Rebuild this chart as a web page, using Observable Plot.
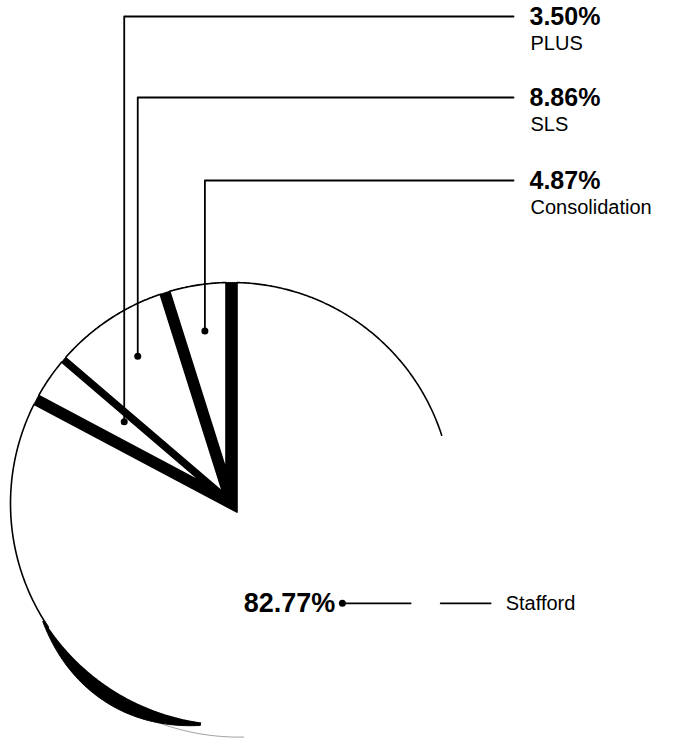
<!DOCTYPE html>
<html>
<head>
<meta charset="utf-8">
<script src="https://cdn.jsdelivr.net/npm/d3@7"></script>
<script src="https://cdn.jsdelivr.net/npm/@observablehq/plot@0.6"></script>
<style>
  html, body { margin: 0; padding: 0; background: #fff; }
  #chart svg { display: block; }
</style>
</head>
<body>
<div id="chart"></div>
<script>
// ---- data (clockwise from 12 o'clock) ----
const categories = ["Stafford", "PLUS", "SLS", "Consolidation"];
const shares = [82.77, 3.50, 8.86, 4.87];
const percentLabels = ["82.77%", "3.50%", "8.86%", "4.87%"];

// ---- layout (pixels) ----
const W = 677, H = 747;
const CX = 231, CY = 503, R = 221;           // pie centre and radius
// inset of each slice's start / end edge (half of the black gap)
const insetStart = { Stafford: 5.5, PLUS: 5, SLS: 3, Consolidation: 5 };
const insetEnd   = { Stafford: 5, PLUS: 3, SLS: 5, Consolidation: 5.5 };
const labelLineY = { PLUS: 16, SLS: 97, Consolidation: 180 };
const labelX = 529, lineEndX = 513;
const dotRadius = { Stafford: 0.675, PLUS: 0.61, SLS: 0.79, Consolidation: 0.79 };
const dotAngleShift = { Stafford: -17, PLUS: 3, SLS: 1, Consolidation: 0 };

const u = v => v / R;                 // px -> data units
const rad = d => d * Math.PI / 180;
const deg = r => r * 180 / Math.PI;
const P = (aDeg, r) => ({ x: r * Math.sin(rad(aDeg)), y: r * Math.cos(rad(aDeg)) });
const fromPx = (px, py) => ({ x: (px - CX) / R, y: (CY - py) / R });

const arcs = d3.pie().sort(null).value(d => d.share).startAngle(0).endAngle(2 * Math.PI)(
  categories.map((c, i) => ({ category: c, share: shares[i], label: percentLabels[i] }))
).map(a => ({ ...a.data, a0: deg(a.startAngle), a1: deg(a.endAngle) }));

// wedge polygon with start edge moved inward by p0 px and end edge by p1 px
function wedge(a0, a1, p0px, p1px, id) {
  const p0 = u(p0px), p1 = u(p1px);
  const u0 = P(a0, 1), u1 = P(a1, 1);
  const n0 = P(a0 + 90, 1), n1 = P(a1 - 90, 1);
  // solve n0*p0 + t*u0 = n1*p1 + s*u1
  const bx = n1.x * p1 - n0.x * p0, by = n1.y * p1 - n0.y * p0;
  const det = u0.x * (-u1.y) - (-u1.x) * u0.y;
  const t = (bx * (-u1.y) - (-u1.x) * by) / det;
  const apex = { x: n0.x * p0 + t * u0.x, y: n0.y * p0 + t * u0.y };
  const d0 = deg(Math.asin(p0)), d1 = deg(Math.asin(p1));
  const pts = [{ ...apex }];
  const n = Math.max(8, Math.ceil((a1 - a0) * 2));
  for (let i = 0; i <= n; i++) pts.push(P(a0 + d0 + (a1 - a0 - d0 - d1) * i / n, 1));
  pts.push({ ...apex });
  return pts.map(q => ({ ...q, id }));
}
function arcPts(from, to, r, id, step = 0.5) {
  const n = Math.max(2, Math.ceil(Math.abs(to - from) / step));
  return d3.range(n + 1).map(i => ({ ...P(from + (to - from) * i / n, r), id }));
}

const staff = arcs.find(a => a.category === "Stafford");
const small = arcs.filter(a => a.category !== "Stafford");

// black backing behind the small slices (visible in the gaps)
const backing = [
  ...arcPts(staff.a1 - 4, 364, 1, "b"),
  { ...P(staff.a0 + (staff.a1 - staff.a0) / 2, u(14)), id: "b" }
];
backing.push({ ...backing[0] });

const staffPoly = wedge(staff.a0, staff.a1, insetStart.Stafford, insetEnd.Stafford, "Stafford");
const smallPolys = small.flatMap(s => wedge(s.a0, s.a1, insetStart[s.category], insetEnd[s.category], s.category));

// Stafford visible outline: lower-left arc, end edge, apex, start edge, upper-right arc
const dS0 = deg(Math.asin(u(insetStart.Stafford))), dS1 = deg(Math.asin(u(insetEnd.Stafford)));
const sApex = staffPoly[0];
const staffOutline = [
  ...arcPts(236, staff.a1 - dS1, 1, "o"),
  { ...sApex, id: "o" },
  ...arcPts(staff.a0 + dS0, 72, 1, "o")
];

// side wall (dark crescent) at lower left
const wallT = a => u(14) * Math.sin(Math.PI * (240 - a) / 56);
const wallOuter = d3.range(238, 187, -1).map(a => ({ ...P(a, 1 + wallT(a)), id: "w" }));
const wallInner = d3.range(188, 239, 1).map(a => ({ ...P(a, 1), id: "w" }));
const wall = [...wallOuter, ...wallInner];
const wallRim = d3.range(199, 176, -1).map(a => ({ ...P(a, 1 + u(10) + u(3) * (199 - a) / 23), id: "r" }));

// leaders
const leaders = [], dots = [], pctStart = [], pctEnd = [], nameText = [];
for (const s of small) {
  const mid = (s.a0 + s.a1) / 2 + dotAngleShift[s.category];
  const dot = P(mid, dotRadius[s.category]);
  const ly = fromPx(0, labelLineY[s.category]).y;
  const ex = fromPx(lineEndX, 0).x;
  leaders.push({ ...dot, id: s.category }, { x: dot.x, y: ly, id: s.category }, { x: ex, y: ly, id: s.category });
  dots.push(dot);
  pctStart.push({ x: fromPx(labelX, 0).x, y: fromPx(0, labelLineY[s.category] + 0.5).y, text: s.label });
  nameText.push({ x: fromPx(labelX + 1, 0).x, y: fromPx(0, labelLineY[s.category] + 27).y, text: s.category });
}
{
  const mid = (staff.a0 + staff.a1) / 2 + dotAngleShift.Stafford;
  const dot = P(mid, dotRadius.Stafford);
  const yS = dot.y;
  const xc = Math.sqrt(1 - yS * yS);          // where the leader crosses the rim
  leaders.push({ ...dot, id: "s1" }, { x: xc - u(18), y: yS, id: "s1" });
  leaders.push({ x: xc + u(12), y: yS, id: "s2" }, { x: xc + u(62), y: yS, id: "s2" });
  dots.push(dot);
  pctEnd.push({ x: dot.x - u(7), y: yS - u(0.5), text: staff.label });
  nameText.push({ x: xc + u(77), y: yS - u(0.5), text: staff.category });
}

const font = "'Liberation Sans', Arial, Helvetica, sans-serif";

const chart = Plot.plot({
  width: W, height: H,
  margin: 0,
  x: { domain: [-CX / R, (W - CX) / R], range: [0, W], axis: null },
  y: { domain: [-(H - CY) / R, CY / R], range: [H, 0], axis: null },
  style: { fontFamily: font, background: "#fff" },
  marks: [
    Plot.line(wallRim, { x: "x", y: "y", z: "id", stroke: "#888", strokeWidth: 0.8 }),
    Plot.line(wall, { x: "x", y: "y", z: "id", fill: "black", stroke: "black", strokeWidth: 1 }),
    Plot.line(backing, { x: "x", y: "y", z: "id", fill: "black", stroke: "black", strokeWidth: 1 }),
    Plot.line(staffPoly, { x: "x", y: "y", z: "id", fill: "white", stroke: "none" }),
    Plot.line(staffOutline, { x: "x", y: "y", z: "id", stroke: "black", strokeWidth: 1.6 }),
    Plot.line(smallPolys, { x: "x", y: "y", z: "id", fill: "white", stroke: "black", strokeWidth: 1.6 }),
    Plot.line(leaders, { x: "x", y: "y", z: "id", stroke: "black", strokeWidth: 1.8 }),
    Plot.dot(dots, { x: "x", y: "y", r: 3.5, fill: "black" }),
    Plot.text(pctStart, { x: "x", y: "y", text: "text", textAnchor: "start",
      fontSize: 25, fontWeight: "bold", fill: "black", lineAnchor: "middle" }),
    Plot.text(pctEnd, { x: "x", y: "y", text: "text", textAnchor: "end",
      fontSize: 27, fontWeight: "bold", fill: "black", lineAnchor: "middle" }),
    Plot.text(nameText, { x: "x", y: "y", text: "text", textAnchor: "start",
      fontSize: 20, fill: "black", lineAnchor: "middle" })
  ]
});
document.getElementById("chart").appendChild(chart);
</script>
</body>
</html>
